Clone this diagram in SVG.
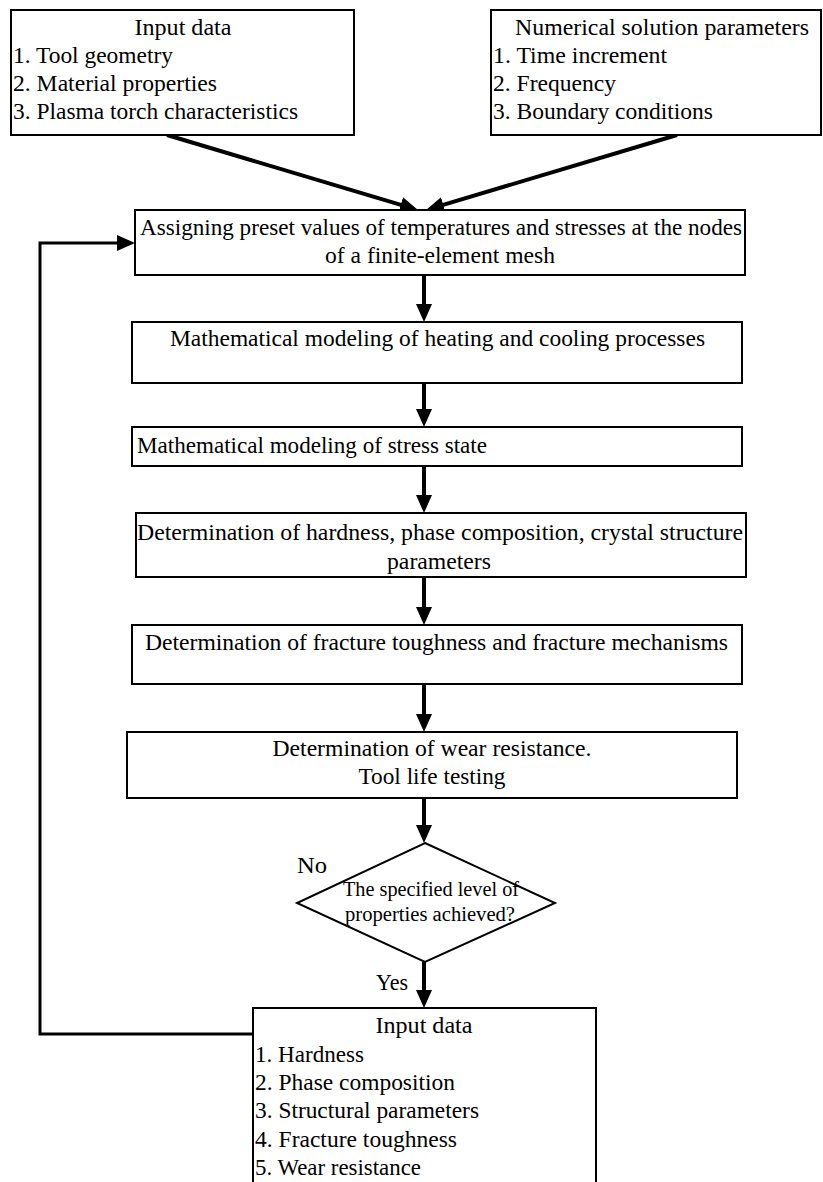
<svg xmlns="http://www.w3.org/2000/svg" width="823" height="1182" viewBox="0 0 823 1182">
<style>
.box{fill:#fff;stroke:#000;stroke-width:2}
.t{font-family:"Liberation Serif","Times New Roman",serif;font-size:24px;fill:#000}
.s{font-size:20px}
.c{text-anchor:middle}
.conn{fill:none;stroke:#000;stroke-width:4}
.fb{fill:none;stroke:#000;stroke-width:3}
</style>
<defs>
<marker id="ah" markerUnits="userSpaceOnUse" markerWidth="20" markerHeight="18" refX="8" refY="8" orient="auto">
<path d="M0,0 L18,8 L0,16 z" fill="#000"/>
</marker>
</defs>
<rect width="823" height="1182" fill="#fff"/>

<g id="connectors">
<line class="conn" x1="167" y1="135" x2="408.4" y2="207.1" marker-end="url(#ah)"/>
<line class="conn" x1="677" y1="135" x2="435.6" y2="207.1" marker-end="url(#ah)"/>
<line class="conn" x1="424" y1="275" x2="424" y2="312" marker-end="url(#ah)"/>
<line class="conn" x1="424" y1="383" x2="424" y2="417" marker-end="url(#ah)"/>
<line class="conn" x1="424" y1="466" x2="424" y2="503" marker-end="url(#ah)"/>
<line class="conn" x1="424" y1="577" x2="424" y2="615" marker-end="url(#ah)"/>
<line class="conn" x1="424" y1="684" x2="424" y2="722" marker-end="url(#ah)"/>
<line class="conn" x1="424" y1="798" x2="424" y2="833" marker-end="url(#ah)"/>
<line class="conn" x1="424" y1="962" x2="424" y2="998" marker-end="url(#ah)"/>
<path class="fb" d="M253,1034 H40 V243 H125" marker-end="url(#ah)"/>
</g>

<g id="input-data-top">
<rect class="box" x="11" y="10" width="343" height="125"/>
<text class="t c" x="183" y="35" textLength="97" lengthAdjust="spacingAndGlyphs">Input data</text>
<text class="t" x="13" y="63" textLength="160" lengthAdjust="spacingAndGlyphs">1. Tool geometry</text>
<text class="t" x="13" y="91" textLength="204" lengthAdjust="spacingAndGlyphs">2. Material properties</text>
<text class="t" x="13" y="119" textLength="285" lengthAdjust="spacingAndGlyphs">3. Plasma torch characteristics</text>
</g>

<g id="numerical-params">
<rect class="box" x="491" y="10" width="330" height="125"/>
<text class="t" x="515" y="35" textLength="294" lengthAdjust="spacingAndGlyphs">Numerical solution parameters</text>
<text class="t" x="493" y="63" textLength="174" lengthAdjust="spacingAndGlyphs">1. Time increment</text>
<text class="t" x="493" y="91" textLength="123" lengthAdjust="spacingAndGlyphs">2. Frequency</text>
<text class="t" x="493" y="119" textLength="220" lengthAdjust="spacingAndGlyphs">3. Boundary conditions</text>
</g>

<g id="assigning">
<rect class="box" x="135" y="210" width="610" height="65"/>
<text class="t" x="140" y="235" textLength="602" lengthAdjust="spacingAndGlyphs">Assigning preset values of temperatures and stresses at the nodes</text>
<text class="t c" x="440" y="263" textLength="230" lengthAdjust="spacingAndGlyphs">of a finite-element mesh</text>
</g>

<g id="heating">
<rect class="box" x="132" y="322" width="610" height="61"/>
<text class="t" x="170" y="346" textLength="535" lengthAdjust="spacingAndGlyphs">Mathematical modeling of heating and cooling processes</text>
</g>

<g id="stress">
<rect class="box" x="132" y="427" width="610" height="39"/>
<text class="t" x="137" y="453" textLength="350" lengthAdjust="spacingAndGlyphs">Mathematical modeling of stress state</text>
</g>

<g id="hardness">
<rect class="box" x="136" y="513" width="610" height="64"/>
<text class="t" x="137" y="540" textLength="606" lengthAdjust="spacingAndGlyphs">Determination of hardness, phase composition, crystal structure</text>
<text class="t c" x="439" y="569" textLength="104" lengthAdjust="spacingAndGlyphs">parameters</text>
</g>

<g id="fracture">
<rect class="box" x="132" y="625" width="610" height="59"/>
<text class="t" x="145" y="650" textLength="583" lengthAdjust="spacingAndGlyphs">Determination of fracture toughness and fracture mechanisms</text>
</g>

<g id="wear">
<rect class="box" x="127" y="732" width="610" height="66"/>
<text class="t c" x="432" y="756" textLength="319" lengthAdjust="spacingAndGlyphs">Determination of wear resistance.</text>
<text class="t c" x="432" y="784" textLength="147" lengthAdjust="spacingAndGlyphs">Tool life testing</text>
</g>

<g id="decision">
<polygon class="box" points="425,843 555,903 425,962 297,903"/>
<text class="t s" x="343" y="896" textLength="176" lengthAdjust="spacingAndGlyphs">The specified level of</text>
<text class="t s" x="345" y="921" textLength="170" lengthAdjust="spacingAndGlyphs">properties achieved?</text>
<text class="t" x="297" y="873" textLength="30" lengthAdjust="spacingAndGlyphs">No</text>
<text class="t" x="376" y="990" textLength="32" lengthAdjust="spacingAndGlyphs">Yes</text>
</g>

<g id="input-data-bottom">
<rect class="box" x="253" y="1008" width="343" height="200"/>
<text class="t c" x="424" y="1033" textLength="97" lengthAdjust="spacingAndGlyphs">Input data</text>
<text class="t" x="255" y="1062" textLength="109" lengthAdjust="spacingAndGlyphs">1. Hardness</text>
<text class="t" x="255" y="1090" textLength="200" lengthAdjust="spacingAndGlyphs">2. Phase composition</text>
<text class="t" x="255" y="1118" textLength="224" lengthAdjust="spacingAndGlyphs">3. Structural parameters</text>
<text class="t" x="255" y="1147" textLength="202" lengthAdjust="spacingAndGlyphs">4. Fracture toughness</text>
<text class="t" x="255" y="1175" textLength="166" lengthAdjust="spacingAndGlyphs">5. Wear resistance</text>
</g>
</svg>
